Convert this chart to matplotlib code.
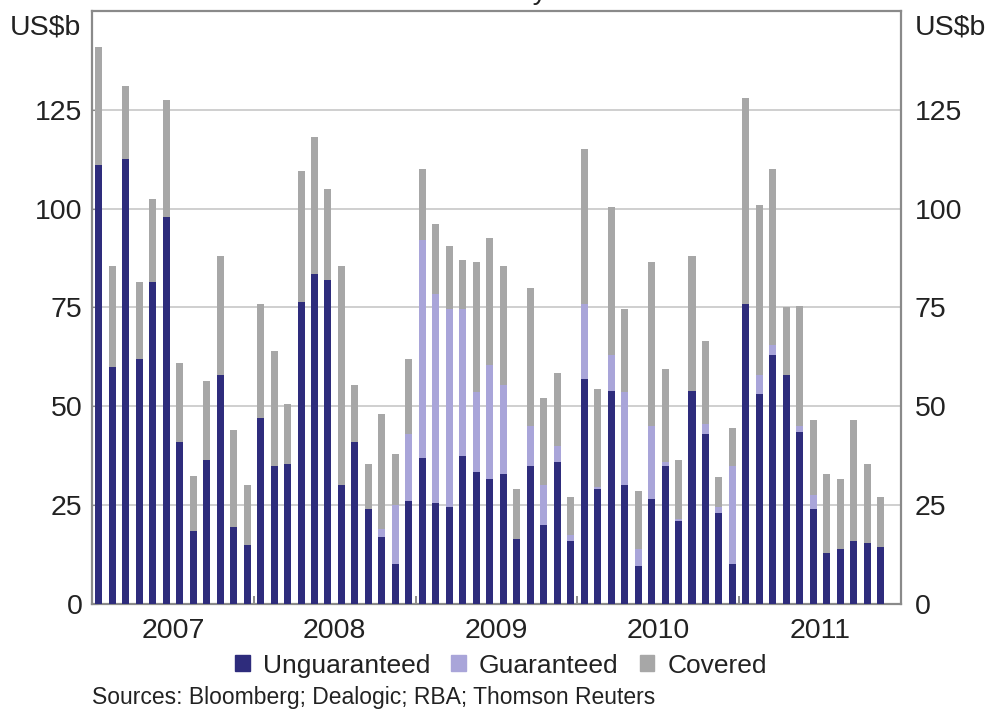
import matplotlib
matplotlib.use('Agg')
import matplotlib.pyplot as plt
from matplotlib.patches import Patch
import numpy as np

plt.rcParams['font.family'] = ['Liberation Sans', 'DejaVu Sans']

# monthly issuance, Jan 2007 - Nov 2011, US$b
years = ['2007', '2008', '2009', '2010', '2011']
unguaranteed = [111, 60, 112.5, 62, 81.5, 98, 41, 18.5, 36.5, 58, 19.5, 15,
                47, 35, 35.5, 76.5, 83.5, 82, 30, 41, 24, 17, 10, 26,
                37, 25.5, 24.5, 37.5, 33.5, 31.5, 33, 16.5, 35, 20, 36, 16,
                57, 29, 54, 30, 9.5, 26.5, 35, 21, 54, 43, 23, 10,
                76, 53, 63, 58, 43.5, 24, 13, 14, 16, 15.5, 14.5]
guaranteed = [0, 0, 0, 0, 0, 0, 0, 0, 0, 0, 0, 0,
              0, 0, 0, 0, 0, 0, 0, 0, 0, 2, 15, 17,
              55, 53, 50, 37, 20, 29, 22.5, 0, 10, 10, 4, 1.5,
              19, 0.5, 9, 23.5, 4.5, 18.5, 1, 0.5, 0, 2.5, 1.5, 25,
              0, 5, 2.5, 0, 1.5, 3.5, 0, 0, 0, 0, 0]
covered = [30, 25.5, 18.5, 19.5, 21, 29.5, 20, 14, 20, 30, 24.5, 15,
           29, 29, 15, 33, 34.5, 23, 55.5, 14.5, 11.5, 29, 13, 19,
           18, 17.5, 16, 12.5, 33, 32, 30, 12.5, 35, 22, 18.5, 9.5,
           39, 25, 37.5, 21, 14.5, 41.5, 23.5, 15, 34, 21, 7.5, 9.5,
           52, 43, 44.5, 17, 30.5, 19, 20, 17.5, 30.5, 20, 12.5]

c_ung = '#2e2c7c'
c_gua = '#a9a5d9'
c_cov = '#a7a7a7'
grid_c = '#cfcfcf'
spine_c = '#8a8a8a'
txt = '#222222'
fs = 20.5

fig = plt.figure(figsize=(9.96, 7.12), dpi=100)
ax = fig.add_axes([0.0924, 0.1517, 0.8122, 0.8329])

x = np.arange(len(unguaranteed))
u = np.array(unguaranteed)
g = np.array(guaranteed)
c = np.array(covered)
w = 0.52
ax.bar(x, u, w, color=c_ung, zorder=3)
ax.bar(x, g, w, bottom=u, color=c_gua, zorder=3)
ax.bar(x, c, w, bottom=u + g, color=c_cov, zorder=3)

ax.set_xlim(-0.5, 59.5)
ax.set_ylim(0, 150)
ax.set_yticks([0, 25, 50, 75, 100, 125])
ax.grid(axis='y', color=grid_c, linewidth=1.4, zorder=0)
for s in ax.spines.values():
    s.set_color(spine_c)
    s.set_linewidth(1.6)

ax.set_xticks([-0.5, 11.5, 23.5, 35.5, 47.5, 59.5])
ax.set_xticklabels([])
ax.set_xticks([5.5, 17.5, 29.5, 41.5, 53.5], minor=True)
ax.set_xticklabels(years, minor=True)
ax.tick_params(axis='x', which='major', direction='in', length=6, color=spine_c, width=1.4)
ax.tick_params(axis='x', which='minor', length=0, pad=10, labelsize=fs, labelcolor=txt)
ax.tick_params(axis='y', direction='in', length=4, color=spine_c, labelsize=fs,
               labelcolor=txt, pad=7, left=True, right=True)

ax2 = ax.twinx()
ax2.set_ylim(ax.get_ylim())
ax2.set_yticks([0, 25, 50, 75, 100, 125])
ax2.tick_params(axis='y', direction='in', length=0, labelsize=fs, labelcolor=txt, pad=10)
for s in ax2.spines.values():
    s.set_visible(False)

fig.text(0.010, 0.962, 'US$b', fontsize=fs, color=txt, va='center', ha='left')
fig.text(0.918, 0.962, 'US$b', fontsize=fs, color=txt, va='center', ha='left')
fig.text(0.5, 0.993, 'Monthly', fontsize=fs, color=txt, va='bottom', ha='center')

handles = [Patch(color=c_ung), Patch(color=c_gua), Patch(color=c_cov)]
fig.legend(handles, ['Unguaranteed', 'Guaranteed', 'Covered'], loc='center',
           bbox_to_anchor=(0.503, 0.065), ncol=3, frameon=False, fontsize=19,
           handlelength=0.55, handleheight=0.55, handletextpad=0.5, columnspacing=0.8,
           labelcolor=txt, borderpad=0.2)
fig.text(0.092, 0.021, 'Sources: Bloomberg; Dealogic; RBA; Thomson Reuters',
         fontsize=16.5, color=txt, va='center', ha='left')

fig.savefig('out.png', dpi=100)
